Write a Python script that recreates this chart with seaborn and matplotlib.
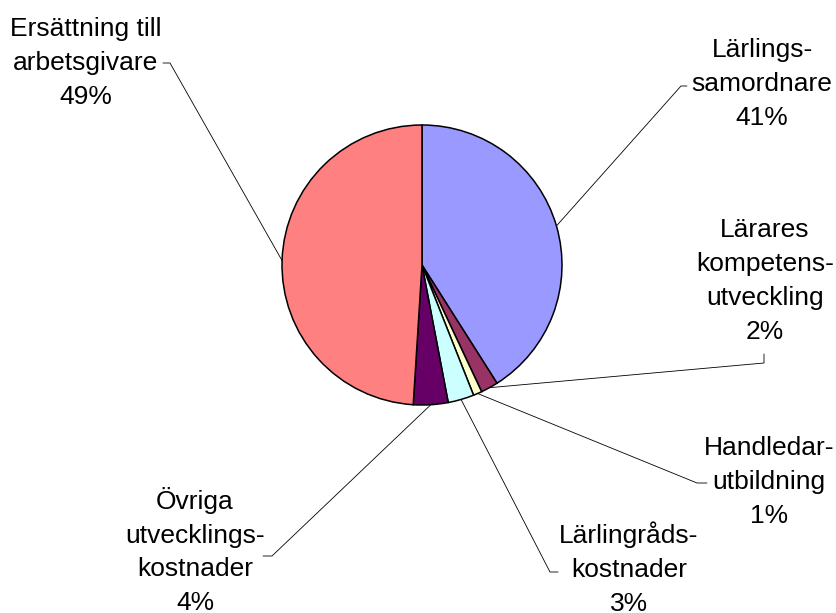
import numpy as np
import matplotlib
matplotlib.use("Agg")
import matplotlib.pyplot as plt
import seaborn as sns

categories = ["Lärlings-\nsamordnare", "Lärares\nkompetens-\nutveckling", "Handledar-\nutbildning",
              "Lärlingråds-\nkostnader", "Övriga\nutvecklings-\nkostnader", "Ersättning till\narbetsgivare"]
values = [41, 2, 1, 3, 4, 49]
colors = ["#9999FF", "#993366", "#FFFFCC", "#CCFFFF", "#660066", "#FF8080"]

sns.set_style("white")
plt.rcParams['font.family'] = ['Liberation Sans', 'DejaVu Sans']

W, H = 836, 613
fig = plt.figure(figsize=(W / 100, H / 100), dpi=100)
ax = fig.add_axes([0, 0, 1, 1])

cx, cy, r = 422, H - 265, 140
wedges, _ = ax.pie(values, colors=colors, startangle=90, counterclock=False,
                   center=(cx, cy), radius=r, frame=True,
                   wedgeprops=dict(edgecolor='black', linewidth=1.1))
ax.set_xlim(0, W)
ax.set_ylim(0, H)
ax.set_aspect('equal')
ax.axis('off')

# label layout (pixel coords from top): text center, elbow, end of leader
layout = [
    dict(t=(762, 84), elbow=(681, 86), end=(687, 86)),
    dict(t=(765, 281), elbow=(764, 363), end=(764, 354)),
    dict(t=(769, 482), elbow=(697, 483), end=(707, 483)),
    dict(t=(629, 569), elbow=(550, 572), end=(558, 572)),
    dict(t=(195, 551), elbow=(272, 556), end=(263, 556)),
    dict(t=(86, 63), elbow=(170, 63), end=(163, 63)),
]

total = sum(values)
for w, cat, v, lay in zip(wedges, categories, values, layout):
    mid = np.deg2rad((w.theta1 + w.theta2) / 2)
    px, py = cx + r * np.cos(mid), cy + r * np.sin(mid)
    ex, ey = lay['elbow'][0], H - lay['elbow'][1]
    fx, fy = lay['end'][0], H - lay['end'][1]
    ax.plot([px, ex, fx], [py, ey, fy], color='black', lw=0.6, zorder=0)
    pct = round(100 * v / total)
    ax.text(lay['t'][0], H - lay['t'][1], f"{cat}\n{pct}%", ha='center', va='center',
            multialignment='center', fontsize=19, linespacing=1.52, color='black')

fig.savefig("out.png", dpi=100, facecolor='white')
